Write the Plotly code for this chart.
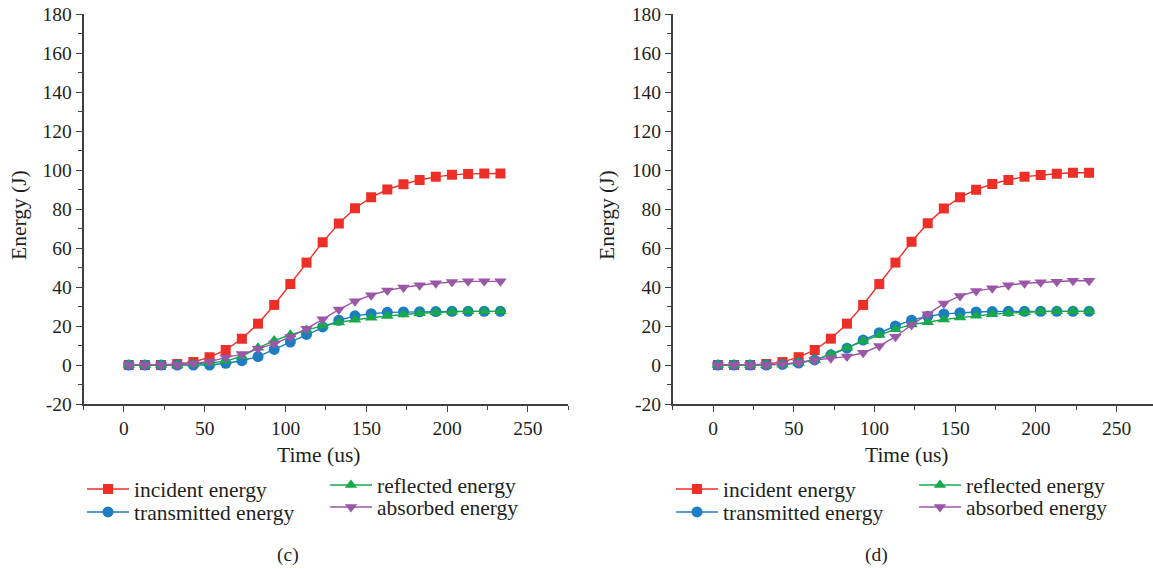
import plotly.graph_objects as go

# ---------------- data ----------------
time_us = [3, 13, 23, 33, 43, 53, 63, 73, 83, 93, 103, 113,
           123, 133, 143, 153, 163, 173, 183, 193, 203, 213, 223, 233]

# panel (c)
c_incident = [0, 0, 0, 0.5, 1.5, 4.0, 7.7, 13.5, 21.2, 30.8, 41.5, 52.5,
              63.0, 72.6, 80.4, 86.0, 90.0, 92.7, 94.9, 96.5, 97.5, 98.0, 98.2, 98.2]
c_transmitted = [0, 0, 0, 0, 0, 0, 0.9, 2.2, 4.3, 8.0, 11.8, 15.7,
                 19.5, 22.9, 25.2, 26.3, 27.0, 27.2, 27.3, 27.4, 27.5, 27.5, 27.5, 27.5]
c_reflected = [0, 0, 0, 0, 0.5, 1.0, 2.0, 4.5, 8.8, 12.5, 15.5, 18.0,
               20.2, 21.8, 23.2, 24.2, 25.1, 25.9, 26.5, 27.0, 27.3, 27.5, 27.5, 27.5]
c_absorbed = [0, 0, 0, 0, 0.8, 1.7, 3.8, 5.6, 8.3, 11.0, 14.4, 18.6,
              23.4, 28.4, 32.7, 35.8, 38.2, 39.8, 40.9, 41.9, 42.5, 42.9, 42.9, 42.9]

# panel (d)
d_incident = [0, 0, 0, 0.5, 1.5, 4.0, 7.7, 13.5, 21.2, 30.8, 41.5, 52.5,
              63.2, 72.7, 80.2, 86.0, 89.9, 92.8, 94.9, 96.6, 97.4, 98.1, 98.6, 98.6]
d_transmitted = [0, 0, 0, 0, 0.3, 1.0, 2.6, 5.2, 8.6, 12.8, 16.6, 20.0,
                 23.0, 25.0, 26.2, 26.8, 27.2, 27.4, 27.5, 27.5, 27.5, 27.5, 27.5, 27.5]
d_reflected = [0, 0, 0, 0, 0.3, 1.0, 2.6, 5.6, 8.9, 12.3, 15.4, 18.3,
               20.8, 21.9, 23.3, 24.3, 25.2, 26.0, 26.6, 27.1, 27.4, 27.5, 27.5, 27.5]
d_absorbed = [0, 0, 0, 0, 0.5, 1.2, 2.6, 3.4, 4.3, 6.3, 9.7, 14.5,
              20.5, 26.0, 31.6, 35.4, 37.9, 39.3, 40.9, 41.9, 42.4, 42.7, 43.2, 43.2]

series_names = ["incident energy", "transmitted energy", "reflected energy", "absorbed energy"]
y_tick_vals = [-20, 0, 20, 40, 60, 80, 100, 120, 140, 160, 180]
y_tick_text = ["-20", "0", "20", "40", "60", "80", "100", "120", "140", "160", "180"]
x_tick_vals = [0, 50, 100, 150, 200, 250]
x_tick_text = ["0", "50", "100", "150", "200", "250"]
panel_labels = ["(c)", "(d)"]

# ---------------- style ----------------
W, H = 1153, 569
FONT = "Liberation Serif"
FS_TICK = 19.5
FS_TXT = 21.5
TXT = "#231f20"
AX = "#404040"
colors = ["#ee2f27", "#1c7dc2", "#17a84c", "#9b56a8"]
symbols = ["square", "circle", "triangle-up", "triangle-down"]
msizes = [10, 11, 11, 11]

# legend placement (pixels): left x of legend box and text row centre y
leg_x_c = [82, 82, 325, 325]
leg_x_d = [671, 671, 914, 914]
leg_y = [490, 513, 486, 508]


def px_x(p):
    return p / W


def px_y(p):
    return 1 - p / H


fig = go.Figure()

panels = [
    ([c_incident, c_transmitted, c_reflected, c_absorbed], "x", "y", leg_x_c, 1),
    ([d_incident, d_transmitted, d_reflected, d_absorbed], "x2", "y2", leg_x_d, 5),
]
legend_layout = {}
for series, xa, ya, lxs, lstart in panels:
    for i, vals in enumerate(series):
        lid = "legend" if lstart + i == 1 else f"legend{lstart + i}"
        fig.add_trace(go.Scatter(
            x=time_us, y=vals, name=series_names[i], mode="lines+markers",
            line=dict(color=colors[i], width=1.4),
            marker=dict(symbol=symbols[i], size=msizes[i], color=colors[i]),
            xaxis=xa, yaxis=ya, legend=lid, showlegend=True,
        ))
        legend_layout[lid] = dict(
            x=px_x(lxs[i]), y=px_y(leg_y[i] - 1), xanchor="left", yanchor="middle",
            bgcolor="rgba(0,0,0,0)", borderwidth=0, itemwidth=42,
            font=dict(family=FONT, size=FS_TXT, color=TXT),
        )

ydom = [px_y(404), px_y(14)]
xdom1 = [px_x(83.5), px_x(568.3)]
xdom2 = [px_x(672.7), 1.0]

common_x = dict(
    showline=True, linecolor=AX, linewidth=1.6, showgrid=False, zeroline=False,
    ticks="outside", ticklen=6, tickwidth=1.4, tickcolor=AX,
    tickmode="array", tickvals=x_tick_vals, ticktext=x_tick_text,
    minor=dict(ticks="outside", ticklen=4, tickwidth=1.2, tickcolor=AX, dtick=25, tick0=0),
    tickfont=dict(family=FONT, size=FS_TICK, color=TXT),
    fixedrange=True, automargin=False,
)
common_y = dict(
    showline=True, linecolor=AX, linewidth=1.6, showgrid=False, zeroline=False,
    ticks="outside", ticklen=6, tickwidth=1.4, tickcolor=AX,
    tickmode="array", tickvals=y_tick_vals, ticktext=y_tick_text,
    minor=dict(ticks="outside", ticklen=4, tickwidth=1.2, tickcolor=AX, dtick=10, tick0=0),
    tickfont=dict(family=FONT, size=FS_TICK, color=TXT),
    range=[-20, 180], fixedrange=True, automargin=False,
)

fig.update_layout(
    width=W, height=H,
    margin=dict(l=0, r=0, t=0, b=0, autoexpand=False),
    paper_bgcolor="white", plot_bgcolor="white",
    font=dict(family=FONT, size=FS_TXT, color=TXT),
    xaxis=dict(domain=xdom1, range=[-25, 275], anchor="y", **common_x),
    yaxis=dict(domain=ydom, anchor="x", **common_y),
    xaxis2=dict(domain=xdom2, range=[-25, 272.6], anchor="y2", **common_x),
    yaxis2=dict(domain=ydom, anchor="x2", **common_y),
    **legend_layout,
)

annots = []
for xc, lab in [(288, panel_labels[0]), (876, panel_labels[1])]:
    annots.append(dict(x=px_x(xc), y=px_y(555), xref="paper", yref="paper", text=lab,
                       showarrow=False, xanchor="center", yanchor="middle",
                       font=dict(family=FONT, size=FS_TICK, color=TXT)))
for xc, yc in [(318, 455), (906, 455)]:
    annots.append(dict(x=px_x(xc), y=px_y(yc), xref="paper", yref="paper", text="Time (us)",
                       showarrow=False, xanchor="center", yanchor="middle",
                       font=dict(family=FONT, size=FS_TXT, color=TXT)))
for xc in [19, 607]:
    annots.append(dict(x=px_x(xc), y=px_y(215), xref="paper", yref="paper", text="Energy (J)",
                       showarrow=False, xanchor="center", yanchor="middle", textangle=-90,
                       font=dict(family=FONT, size=FS_TXT, color=TXT)))
fig.update_layout(annotations=annots)

fig.write_html("out.html")
